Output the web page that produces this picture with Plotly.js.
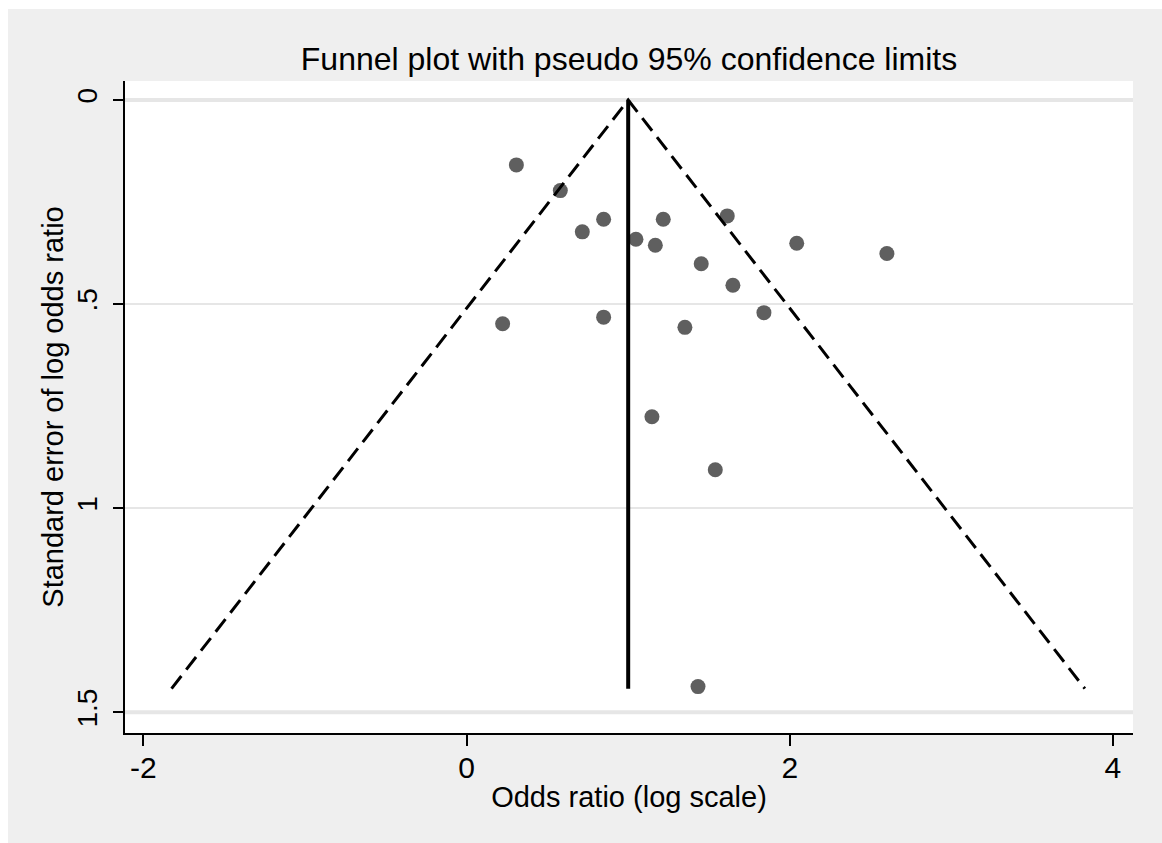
<!DOCTYPE html>
<html>
<head>
<meta charset="utf-8">
<script src="https://cdn.plot.ly/plotly-3.0.1.min.js"></script>
<style>
  html, body { margin: 0; padding: 0; background: #ffffff; }
  #chart { position: absolute; left: 8px; top: 9px; width: 1154px; height: 834px; }
</style>
</head>
<body>
<div id="chart"></div>
<script>
// Study estimates: log odds ratio and standard error of the log odds ratio
const logOR = [0.308, 0.580, 0.848, 0.716, 1.048, 1.217, 1.168, 1.613, 2.043, 2.601,
               1.452, 1.648, 1.840, 0.223, 0.848, 1.351, 1.147, 1.539, 1.432];
const seLogOR = [0.159, 0.222, 0.292, 0.323, 0.341, 0.292, 0.356, 0.284, 0.351, 0.376,
                 0.401, 0.454, 0.521, 0.548, 0.532, 0.557, 0.776, 0.906, 1.437];

// Pooled estimate and the pseudo 95% confidence limits around it
const pooledX = [1.0, 1.0];
const pooledSE = [0, 1.442];
const limitX = [-1.826, 1.0, 3.826];
const limitSE = [1.442, 0, 1.442];

// Axis ticks
const xTickVals = [-2, 0, 2, 4];
const xTickText = ['-2', '0', '2', '4'];
const yTickVals = [0, 0.5, 1, 1.5];
const yTickText = ['0', '.5', '1', '1.5'];

const FONT = '"Liberation Sans", Arial, sans-serif';
const GRID = '#e6e6e6';

const traces = [
  {
    type: 'scatter', mode: 'markers', x: logOR, y: seLogOR,
    marker: { size: 15, color: '#5f5f5f' },
    hoverinfo: 'x+y', showlegend: false
  },
  {
    type: 'scatter', mode: 'lines', x: limitX, y: limitSE,
    line: { color: '#000000', width: 3, dash: '16px,8px' },
    hoverinfo: 'skip', showlegend: false
  },
  {
    type: 'scatter', mode: 'lines', x: pooledX, y: pooledSE,
    line: { color: '#000000', width: 4 },
    hoverinfo: 'skip', showlegend: false
  }
];

// the outermost grid lines are drawn heavier
const edgeGrid = [yTickVals[0], yTickVals[yTickVals.length - 1]].map(v => ({
  type: 'line', xref: 'paper', yref: 'y', x0: 0, x1: 1, y0: v, y1: v,
  line: { color: GRID, width: 4 }, layer: 'below'
}));

const layout = {
  width: 1154, height: 834,
  margin: { l: 117, r: 29, t: 72, b: 110, pad: 0 },
  paper_bgcolor: '#efefef',
  plot_bgcolor: '#ffffff',
  font: { family: FONT, color: '#000000' },
  showlegend: false,
  title: {
    text: 'Funnel plot with pseudo 95% confidence limits',
    font: { family: FONT, size: 32, color: '#000000' },
    x: 0.5, xref: 'paper', xanchor: 'center',
    y: 0.9406, yref: 'container', yanchor: 'middle'
  },
  xaxis: {
    range: [-2.114, 4.124],
    tickmode: 'array', tickvals: xTickVals, ticktext: xTickText,
    ticks: 'outside', ticklen: 11, tickwidth: 2, tickcolor: '#000000',
    ticklabelstandoff: -4,
    tickfont: { family: FONT, size: 30, color: '#000000' },
    showline: true, linewidth: 2, linecolor: '#000000',
    showgrid: false, zeroline: false,
    title: { text: 'Odds ratio (log scale)', font: { family: FONT, size: 29, color: '#000000' }, standoff: 4 }
  },
  yaxis: {
    range: [1.5507, -0.0465],
    tickmode: 'array', tickvals: yTickVals, ticktext: yTickText,
    tickangle: -90,
    ticks: 'outside', ticklen: 10, tickwidth: 2, tickcolor: '#000000',
    ticklabelstandoff: 5,
    tickfont: { family: FONT, size: 28, color: '#000000' },
    showline: true, linewidth: 2, linecolor: '#000000',
    showgrid: true, gridcolor: GRID, gridwidth: 2, zeroline: false,
    title: { text: 'Standard error of log odds ratio', font: { family: FONT, size: 29, color: '#000000' }, standoff: 0 }
  },
  shapes: edgeGrid
};

Plotly.newPlot('chart', traces, layout, { displayModeBar: false, staticPlot: true });
</script>
</body>
</html>
